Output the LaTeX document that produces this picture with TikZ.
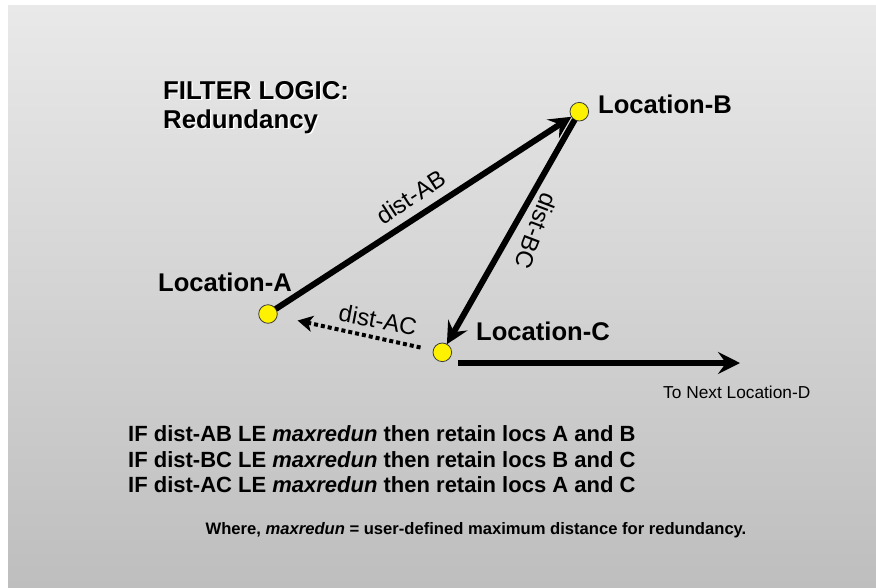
\documentclass[tikz,border=0pt]{standalone}
\usepackage{fontspec}
\setmainfont{Liberation Sans}
\usetikzlibrary{arrows.meta}
\definecolor{panelTop}{RGB}{233,233,233}
\definecolor{panelBot}{RGB}{190,190,190}
\definecolor{ringGray}{RGB}{60,60,60}
\tikzset{
  loc/.style={circle, draw=ringGray, fill=yellow, line width=0.8pt,
    minimum size=18.6pt, inner sep=0pt, outer sep=0pt},
  biglabel/.style={font=\fontsize{25.6}{30}\selectfont\bfseries,
    anchor=base west, inner sep=0pt},
  headline/.style={font=\fontsize{25.8}{30}\selectfont\bfseries,
    anchor=base west, inner sep=0pt},
  distlabel/.style={font=\fontsize{24}{28}\selectfont, inner sep=0pt},
  rulelabel/.style={font=\fontsize{22}{26}\selectfont\bfseries,
    anchor=base west, inner sep=0pt},
  link/.style={line width=6pt, -{Stealth[length=22pt,width=22pt,inset=8pt]}},
  hint/.style={line width=4pt, dash pattern=on 4pt off 3pt,
    -{Stealth[length=15pt,width=16pt,inset=4pt]}},
}
\begin{document}
\begin{tikzpicture}[x=1pt,y=-1pt]
  % page and shaded panel
  \useasboundingbox (0,0) rectangle (876,587);
  \fill[white] (0,0) rectangle (876,587);
  \shade[top color=panelTop, bottom color=panelBot] (8,5) rectangle (876,587);

  % heading with a light drop shadow
  \node[headline, text=white] (titleS) at (164.5,100.8) {FILTER LOGIC:};
  \node[headline, text=white] (subS) at (164.5,129.8) {Redundancy};
  \node[headline] (title) at (163,99.3) {FILTER LOGIC:};
  \node[headline] (sub) at (163,128.3) {Redundancy};

  % locations
  \node[loc] (A) at (268,314) {};
  \node[loc] (B) at (579.3,111.7) {};
  \node[loc] (C) at (442.3,352.3) {};

  \node[biglabel] (labA) at (158,291.7) {Location-A};
  \node[biglabel] (labB) at (598,113.3) {Location-B};
  \node[biglabel] (labC) at (476,340) {Location-C};

  % distances between locations
  \draw[link] (A) -- (B);
  \draw[link] (B) -- (C);
  \draw[hint, shorten <=13pt, shorten >=21pt] (C) -- (A);

  \node[distlabel, rotate=33] (dAB) at (411,197) {dist-AB};
  \node[distlabel, rotate=-111] (dBC) at (536,231) {dist-BC};
  \node[distlabel, rotate=-11] (dAC) at (378,320) {dist-AC};

  % onward leg
  \coordinate (Cout) at (458,363);
  \coordinate (D) at (740,363);
  \draw[link] (Cout) -- (D);
  \node[font=\fontsize{17.3}{20}\selectfont, anchor=base west, inner sep=0pt]
    (next) at (663,398.3) {To Next Location-D};

  % filter rules
  \node[rulelabel] (r1) at (128,441.7)
    {IF dist-AB LE \textit{maxredun} then retain locs A and B};
  \node[rulelabel] (r2) at (128,467.3)
    {IF dist-BC LE \textit{maxredun} then retain locs B and C};
  \node[rulelabel] (r3) at (128,492.7)
    {IF dist-AC LE \textit{maxredun} then retain locs A and C};
  \node[font=\fontsize{16.6}{20}\selectfont\bfseries, anchor=base, inner sep=0pt]
    (note) at (476,534)
    {Where, \textit{maxredun} = user-defined maximum distance for redundancy.};
\end{tikzpicture}
\end{document}
